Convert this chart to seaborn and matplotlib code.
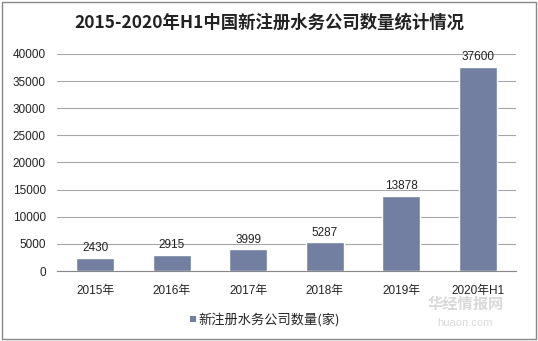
import matplotlib
matplotlib.use("Agg")
import matplotlib.pyplot as plt
import seaborn as sns
import pandas as pd
from matplotlib.patches import Rectangle

years = ["2015年", "2016年", "2017年", "2018年", "2019年", "2020年H1"]
counts = [2430, 2915, 3999, 5287, 13878, 37600]
series_name = "新注册水务公司数量(家)"
title = "2015-2020年H1中国新注册水务公司数量统计情况"
y_ticks = [0, 5000, 10000, 15000, 20000, 25000, 30000, 35000, 40000]

sns.set_style("white")
plt.rcParams["font.family"] = ["Liberation Sans", "Noto Sans CJK SC", "DejaVu Sans"]

bar_color = "#727fa1"
df = pd.DataFrame({"year": years, "count": counts})

fig = plt.figure(figsize=(5.38, 3.41), dpi=100)
ax = fig.add_axes([0.106, 0.205, 0.853, 0.637])

sns.barplot(data=df, x="year", y="count", color=bar_color, width=0.5,
            saturation=1, ax=ax, zorder=3)

ax.set_ylim(0, 40000)
ax.set_xlim(-0.5, len(years) - 0.5)
ax.set_yticks(y_ticks)
ax.set_yticklabels([str(v) for v in y_ticks], fontsize=8.5, color="#222222")
ax.yaxis.grid(True, color="#a6a6a6", linewidth=0.8, zorder=0)
ax.tick_params(axis="y", length=0, pad=8)
ax.set_xlabel("")
ax.set_ylabel("")

# category boundary ticks on the x axis
ax.set_xticks([i - 0.5 for i in range(len(years) + 1)], minor=True)
ax.tick_params(axis="x", which="minor", length=4, color="#888888", width=0.8, direction="out")
ax.tick_params(axis="x", which="major", length=0, pad=10)
ax.set_xticks(range(len(years)))
ax.set_xticklabels(years, fontsize=8.5, color="#222222")

for side in ["top", "right", "left"]:
    ax.spines[side].set_visible(False)
ax.spines["bottom"].set_color("#888888")
ax.spines["bottom"].set_linewidth(0.8)

for i, v in enumerate(counts):
    ax.text(i, v + 700, str(v), ha="center", va="bottom", fontsize=8.5, color="#222222")

fig.text(0.5, 0.935, title, ha="center", va="center", fontsize=12.5, fontweight="bold",
         color="#222222", family=["Noto Sans CJK SC", "DejaVu Sans"])

# legend
fig.patches.append(Rectangle((0.353, 0.055), 0.011, 0.018, transform=fig.transFigure,
                             facecolor=bar_color, edgecolor="none"))
fig.text(0.368, 0.064, series_name, ha="left", va="center", fontsize=9.5, color="#222222",
         family=["Noto Sans CJK SC", "DejaVu Sans"])

# watermark
fig.text(0.865, 0.108, "华经情报网", ha="center", va="center", fontsize=11, fontweight="bold",
         color="#d0d0d0", family=["Noto Sans CJK SC", "DejaVu Sans"], alpha=0.8)
fig.text(0.865, 0.052, "huaon.com", ha="center", va="center", fontsize=8,
         color="#d0d0d0", alpha=0.8)

# outer frame
fig.patches.append(Rectangle((0.004, 0.006), 0.992, 0.988, transform=fig.transFigure,
                             facecolor="none", edgecolor="#888888", linewidth=1.0))

fig.savefig("out.png", dpi=100)
